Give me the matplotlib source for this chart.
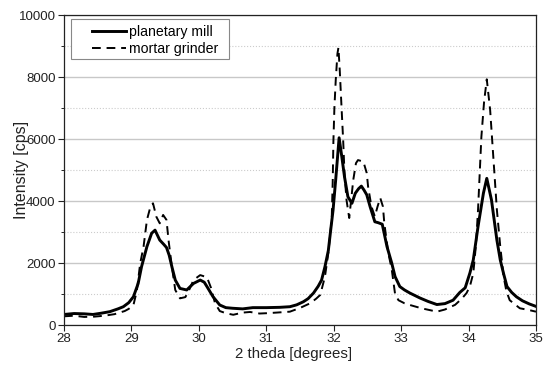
import matplotlib
matplotlib.use("Agg")
import matplotlib.pyplot as plt
from matplotlib.ticker import MultipleLocator
from matplotlib.patches import Rectangle

plt.rcParams['font.family'] = ['Liberation Sans', 'DejaVu Sans']

# planetary mill (solid)
pm_x = [28.00, 28.15, 28.30, 28.43, 28.55, 28.68, 28.80, 28.88, 28.96, 29.03,
        29.10, 29.15, 29.23, 29.30, 29.35, 29.42, 29.48, 29.52, 29.56, 29.60,
        29.65, 29.72, 29.82, 29.92, 30.02, 30.08, 30.12, 30.21, 30.31, 30.40,
        30.50, 30.65, 30.80, 31.00, 31.20, 31.35, 31.45, 31.55, 31.62, 31.70,
        31.77, 31.82, 31.87, 31.92, 31.955, 31.99, 32.03, 32.08, 32.12, 32.16,
        32.21, 32.27, 32.32, 32.37, 32.41, 32.45, 32.49, 32.54, 32.61, 32.66,
        32.72, 32.79, 32.86, 32.91, 32.98, 33.05, 33.13, 33.28, 33.40, 33.53,
        33.65, 33.77, 33.87, 33.95, 34.02, 34.07, 34.14, 34.22, 34.27, 34.34,
        34.42, 34.47, 34.52, 34.57, 34.64, 34.71, 34.80, 34.90, 35.00]
pm_y = [340, 370, 360, 340, 380, 430, 520, 590, 720, 913,
        1340, 1880, 2530, 2960, 3060, 2740, 2600, 2500, 2250, 1880,
        1450, 1180, 1130, 1340, 1450, 1380, 1240, 913, 645, 560,
        540, 520, 560, 560, 570, 590, 650, 750, 850, 1030,
        1250, 1450, 1880, 2400, 3060, 3700, 4700, 6040, 5430, 4780,
        4140, 3925, 4250, 4400, 4480, 4350, 4200, 3815, 3330, 3300,
        3250, 2530, 2000, 1560, 1240, 1130, 1030, 870, 760, 660,
        690, 800, 1050, 1200, 1680, 2100, 3170, 4250, 4730, 4030,
        2740, 2100, 1650, 1240, 1050, 910, 780, 680, 600]

# mortar grinder (dashed)
mg_x = [28.00, 28.15, 28.30, 28.45, 28.60, 28.75, 28.90, 28.96, 29.03, 29.08,
        29.13, 29.18, 29.23, 29.28, 29.32, 29.37, 29.42, 29.47, 29.52, 29.55,
        29.60, 29.65, 29.72, 29.80, 29.86, 29.92, 30.02, 30.12, 30.18, 30.24,
        30.31, 30.40, 30.51, 30.65, 30.76, 30.90, 31.00, 31.15, 31.35, 31.50,
        31.65, 31.74, 31.80, 31.87, 31.92, 31.97, 31.985, 31.995, 32.01, 32.03,
        32.055, 32.07, 32.09, 32.12, 32.14, 32.16, 32.19, 32.23, 32.29, 32.33,
        32.36, 32.44, 32.49, 32.51, 32.56, 32.61, 32.65, 32.69, 32.73, 32.75,
        32.78, 32.81, 32.86, 32.91, 32.96, 33.05, 33.13, 33.30, 33.53, 33.65,
        33.80, 33.90, 33.97, 34.02, 34.07, 34.11, 34.14, 34.19, 34.23, 34.27,
        34.32, 34.37, 34.42, 34.47, 34.52, 34.56, 34.61, 34.76, 34.90, 35.00]
mg_y = [280, 300, 260, 270, 300, 350, 450, 520, 645, 1100,
        1990, 2530, 3390, 3800, 3925, 3490, 3280, 3550, 3390, 2740,
        1880, 1130, 860, 900, 1150, 1450, 1610, 1540, 1200, 700,
        450, 380, 330, 400, 420, 370, 380, 400, 430, 550,
        700, 850, 970, 1560, 2320, 3400, 4600, 5900, 7000, 7900,
        8750, 8950, 8200, 6840, 5970, 4900, 4030, 3450, 4680, 5220,
        5320, 5270, 4900, 4460, 3820, 3500, 3820, 4100, 3820, 3290,
        2800, 2320, 1800, 1000, 800, 700, 645, 540, 430, 500,
        650, 850, 1030, 1250, 1670, 2600, 3700, 6070, 7200, 7925,
        6935, 5320, 3710, 2530, 1560, 1100, 800, 540, 480, 430]

series_labels = ["planetary mill", "mortar grinder"]
x_ticks = [28, 29, 30, 31, 32, 33, 34, 35]
y_ticks = [0, 2000, 4000, 6000, 8000, 10000]

fig = plt.figure(figsize=(5.49, 3.65), dpi=100)
ax = fig.add_axes([64/549, 1-325/365, 472/549, 310/365])

ax.plot(pm_x, pm_y, color='black', lw=2.1, ls='-', label=series_labels[0])
ax.plot(mg_x, mg_y, color='black', lw=1.4, ls=(0, (4.5, 3)), label=series_labels[1])

ax.set_xlim(28, 35)
ax.set_ylim(0, 10000)
ax.set_xticks(x_ticks)
ax.set_yticks(y_ticks)
ax.yaxis.set_minor_locator(MultipleLocator(1000))
ax.grid(axis='y', which='major', color='#c8c8c8', lw=1.0, ls='-')
ax.grid(axis='y', which='minor', color='#cccccc', lw=0.8, ls=':')
ax.set_axisbelow(True)

ax.tick_params(axis='both', which='major', direction='out', length=4, width=0.8,
               labelsize=9.5, colors='#222222', labelcolor='#222222')
ax.tick_params(axis='y', which='minor', direction='out', length=2, width=0.6)
ax.tick_params(axis='x', which='major', pad=2)
ax.tick_params(axis='y', which='major', pad=2)

for s in ax.spines.values():
    s.set_linewidth(0.9)
    s.set_color('#222222')

ax.set_xlabel("2 theda [degrees]", fontsize=10.8, color='#222222')
ax.set_ylabel("Intensity [cps]", fontsize=11.5, color='#222222')
ax.xaxis.set_label_coords(0.486, -0.07)
ax.yaxis.set_label_coords(-0.074, 0.5)

# legend frame drawn as a rectangle, legend itself frameless
ax.add_patch(Rectangle((0.0148, 0.858), 0.3348, 0.129, transform=ax.transAxes,
                       facecolor='white', edgecolor='#888888', lw=0.8, zorder=4))
leg = ax.legend(loc='upper left', bbox_to_anchor=(0.0593, 0.967), borderaxespad=0,
                frameon=False, fontsize=10.2, handlelength=2.4, handletextpad=0.22,
                labelspacing=0.2, borderpad=0)
leg.set_zorder(5)

fig.savefig("out.png", dpi=100)
